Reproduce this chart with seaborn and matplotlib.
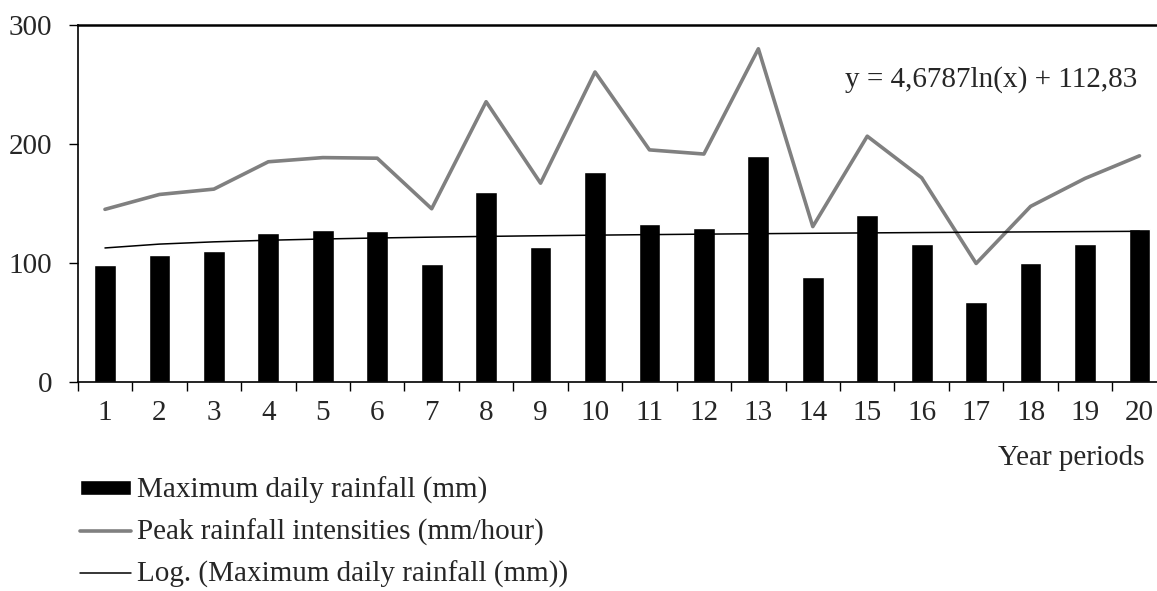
import numpy as np
import pandas as pd
import matplotlib
matplotlib.use('Agg')
import matplotlib.pyplot as plt
import seaborn as sns

# Data
periods = list(range(1, 21))
max_daily = [98, 106.5, 110, 125.5, 127.5, 127, 99, 159.5, 113, 176,
             132.5, 129.5, 189.5, 88.5, 140, 116, 67, 99.5, 115.5, 128.5]
peak_intensity = [145, 157.5, 162, 185, 188.5, 188, 145.5, 235.5, 167, 260.5,
                  195, 191.5, 280, 130.5, 206.5, 171.5, 99.5, 147.5, 171, 190]
y_ticks = [0, 100, 200, 300]
equation_label = 'y = 4,6787ln(x) + 112,83'

sns.set_style('ticks')
plt.rcParams['font.family'] = ['Liberation Serif', 'DejaVu Serif']
plt.rcParams['font.size'] = 21

df = pd.DataFrame({'pos': np.arange(len(periods)), 'period': periods,
                   'max_daily': max_daily, 'peak': peak_intensity})

# Logarithmic trendline of the daily rainfall
a, b = np.polyfit(np.log(df['period']), df['max_daily'], 1)
df['trend'] = a * np.log(df['period']) + b

fig = plt.figure(figsize=(11.57, 5.91), dpi=100)
ax = fig.add_axes([0.0672, 0.354, 0.9412, 0.6037])

sns.barplot(data=df, x='pos', y='max_daily', color='black', width=0.4,
            saturation=1, ax=ax, label='Maximum daily rainfall (mm)')
sns.lineplot(data=df, x='pos', y='peak', color='#808080', linewidth=2.6,
             ax=ax, label='Peak rainfall intensities (mm/hour)')
sns.lineplot(data=df, x='pos', y='trend', color='black', linewidth=1.1,
             ax=ax, label='Log. (Maximum daily rainfall (mm))')

ax.set_xlim(-0.5, len(periods) - 0.5)
ax.set_ylim(0, 300)
ax.set_yticks(y_ticks)
ax.set_yticklabels([str(v) for v in y_ticks])

# ticks between categories, labels at centres
ax.set_xticks(np.arange(len(periods) + 1) - 0.5)
ax.set_xticklabels([])
ax.set_xticks(np.arange(len(periods)), minor=True)
ax.set_xticklabels([str(p) for p in periods], minor=True)
ax.tick_params(axis='x', which='major', length=6.5, width=1, color='black', direction='out')
ax.tick_params(axis='x', which='minor', length=0, pad=13, labelsize=21)
ax.tick_params(axis='y', length=6.5, width=1, color='black', pad=12, labelsize=21)

ax.set_xlabel('')
ax.set_ylabel('')
for side in ['left', 'bottom', 'top', 'right']:
    ax.spines[side].set_color('black')
    ax.spines[side].set_linewidth(1.2)
ax.spines['top'].set_linewidth(1.8)

fig.text(1145 / 1157, 1 - 458 / 591, 'Year periods', ha='right', va='center', fontsize=21)
fig.text(991 / 1157, 1 - 80 / 591, equation_label, ha='center', va='center', fontsize=21)

handles, labels = ax.get_legend_handles_labels()
order = [labels.index(l) for l in ['Maximum daily rainfall (mm)',
                                   'Peak rainfall intensities (mm/hour)',
                                   'Log. (Maximum daily rainfall (mm))']]
if ax.get_legend():
    ax.get_legend().remove()
fig.legend([handles[i] for i in order], [labels[i] for i in order],
           loc='upper left', bbox_to_anchor=(80 / 1157, 1 - 477 / 591),
           frameon=False, fontsize=21, handlelength=1.75, handleheight=0.45,
           handletextpad=0.2, labelspacing=0.5, borderpad=0, borderaxespad=0)

fig.savefig('out.png', dpi=100, facecolor='white')
